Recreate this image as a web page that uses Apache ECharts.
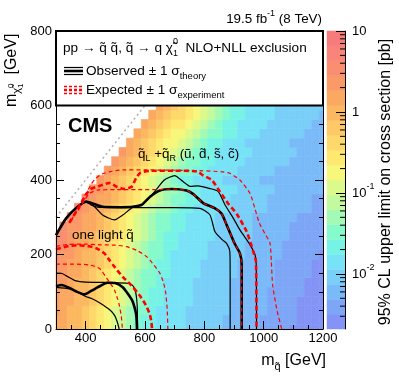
<!DOCTYPE html>
<html>
<head>
<meta charset="utf-8">
<script src="https://cdn.jsdelivr.net/npm/echarts@6.0.0/dist/echarts.min.js"></script>
<style>
html,body{margin:0;padding:0;background:#ffffff;}
#chart{width:399px;height:383px;}
</style>
</head>
<body>
<div id="chart"></div>
<script>
const FONT = '"Liberation Sans", Arial, Helvetica, sans-serif';

// ---------- data ----------
const squarkMasses = [300,325,350,375,400,425,450,475,500,525,550,575,600,625,650,675,700,725,750,775,800,825,850,875,900,925,950,975,1000,1025,1050,1075,1100,1125,1150,1175,1200];
const lspMasses = [0,25,50,75,100,125,150,175,200,225,250,275,300,325,350,375,400,425,450,475,500,525,550,575,600];

// colour band (0 = lowest limit ... 19 = highest) read for every cell; each row ends at m_squark = 1200
const limitBandRows = [
  [15,15,14,14,13,12,11,10,9,8,7,6,5,5,4,4,4,4,3,3,3,3,3,2,2,2,2,2,1,1,1,1,0,0,0,0,0],
  [15,15,14,14,13,12,11,10,9,8,7,6,5,5,4,4,4,4,3,3,3,3,3,2,2,2,2,2,1,1,1,1,1,0,0,0,0],
  [16,15,14,14,13,12,11,10,9,8,7,6,6,5,4,4,4,4,3,3,3,3,3,3,2,2,2,2,2,1,1,1,1,0,0,0,0],
  [16,15,15,14,14,13,12,11,10,9,8,7,6,5,5,4,4,4,4,3,3,3,3,3,2,2,2,2,2,1,1,1,1,0,0,0,0],
  [16,15,15,14,14,13,12,11,10,9,8,7,6,5,5,4,4,4,4,3,3,3,3,3,2,2,2,2,2,1,1,1,1,1,0,0,0],
  [16,16,15,14,14,13,12,11,10,9,8,7,6,6,5,4,4,4,4,3,3,3,3,3,2,2,2,2,2,2,1,1,1,1,0,0,0],
  [16,16,15,15,14,13,12,11,10,9,8,7,6,6,5,5,4,4,4,4,3,3,3,3,3,2,2,2,2,2,1,1,1,1,1,0,0],
  [17,16,15,15,14,14,13,12,11,10,9,8,7,6,5,5,4,4,4,4,3,3,3,3,3,2,2,2,2,2,1,1,1,1,1,0,0],
  [17,16,16,15,14,14,13,12,11,10,9,8,7,6,6,5,4,4,4,4,4,3,3,3,3,3,2,2,2,2,2,1,1,1,1,1,0],
  [17,17,16,15,15,14,13,12,11,10,9,8,7,6,6,5,5,4,4,4,4,3,3,3,3,3,2,2,2,2,2,1,1,1,1,1,1],
  [17,17,16,15,15,14,13,13,12,11,10,9,8,7,6,5,5,4,4,4,4,4,3,3,3,3,3,2,2,2,2,2,1,1,1,1,1],
  [17,16,16,15,15,14,13,12,11,10,9,8,7,6,6,5,5,4,4,4,4,3,3,3,3,3,2,2,2,2,2,1,1,1,1,1],
  [17,16,15,15,14,13,12,11,10,9,8,7,6,6,5,5,4,4,4,4,3,3,3,3,3,2,2,2,2,2,2,1,1,1,1],
  [17,16,15,15,14,13,12,11,10,9,8,7,7,6,5,5,4,4,4,4,4,3,3,3,3,3,2,2,2,2,2,2,1,1],
  [17,16,15,15,14,13,12,11,10,9,8,7,6,6,5,5,4,4,4,4,3,3,3,3,3,2,2,2,2,2,2,1,1],
  [16,16,15,14,13,12,11,10,9,8,7,7,6,5,5,4,4,4,4,4,3,3,3,3,3,2,2,2,2,2,2,2],
  [16,15,14,13,12,11,10,9,8,7,6,5,5,4,4,4,4,3,3,3,3,3,2,2,2,2,2,2,2,2,2],
  [16,15,14,13,12,11,10,9,8,7,6,6,5,5,4,4,4,4,3,3,3,3,3,2,2,2,2,2,2,2],
  [16,15,14,13,12,11,10,9,8,7,6,6,5,5,4,4,4,4,3,3,3,3,3,3,2,2,2,2,2],
  [16,15,14,13,12,11,10,9,8,7,6,5,5,4,4,4,4,4,3,3,3,3,3,3,2,2,2,2],
  [15,14,13,12,11,10,10,9,8,7,6,5,5,4,4,4,3,3,3,3,3,3,2,2,2,2,2],
  [15,14,13,12,11,10,10,9,8,7,6,6,5,5,4,4,4,3,3,3,3,3,3,2,2,2],
  [15,14,13,12,11,11,10,9,8,7,6,5,5,4,4,4,4,3,3,3,3,3,3,2,2],
  [15,14,13,12,12,11,10,9,8,7,6,5,5,4,4,4,4,3,3,3,3,3,3,2],
  [15,14,13,12,11,10,9,8,7,6,5,5,4,4,4,4,3,3,3,3,3,3,3]
];

// colour-bar bands (log10 of pb), band centre limits (pb) and colours, bottom to top
const bandLogEdges = [-2.68,-2.496,-2.312,-2.128,-1.944,-1.76,-1.576,-1.392,-1.208,-1.024,-0.84,-0.656,-0.472,-0.288,-0.104,0.08,0.264,0.448,0.632,0.816,1.0];
const bandCentreLimits = [0.0026,0.0039,0.0060,0.0092,0.014,0.021,0.033,0.050,0.077,0.12,0.18,0.27,0.42,0.64,0.97,1.5,2.3,3.5,5.3,8.1];
const bandColours = ['#8393f6','#7ea6f7','#7bbaf8','#79cff8','#78e2f7','#77f3e5','#86facb','#a2fab5','#c3fa9d','#dcf98c','#f7f77b','#fee870','#fed86a','#fdc865','#fcb860','#fba860','#fa9a66','#f98e70','#f8847a','#f77b7b'];
const colorbarMajorTicks = [-2,-1,0,1];
const colorbarMinorTicks = [0.003,0.004,0.005,0.006,0.007,0.008,0.009,0.02,0.03,0.04,0.05,0.06,0.07,0.08,0.09,0.2,0.3,0.4,0.5,0.6,0.7,0.8,0.9,2,3,4,5,6,7,8,9];

const xTickLabels = [400,600,800,1000,1200];
const diagonalLine = [[300,300],[600,600]];

// "one light squark" contours
const obsOneLight = [[300,115],[320,118],[345,110],[370,100],[395,93],[420,103],[450,116],[474,124],[502,123],[525,112],[541,96],[556,78],[564,60],[570,40],[572,22],[573,0]];
const obsOneLightUp = [[300,150],[320,149],[345,138],[367,129],[400,126],[468,125],[536,123],[552,120],[561,114],[568,100],[572,80],[574,55],[575,0]];
const obsOneLightDown = [[300,112],[345,108],[370,100],[398,88],[420,82],[448,70],[482,51],[498,36],[506,20],[513,0]];
const expOneLight = [[300,214],[340,222],[378,225],[410,222],[435,217],[463,203],[480,185],[497,167],[525,140],[553,118],[581,91],[603,64],[615,42],[621,22],[624,0]];
const expOneLightDown = [[300,174],[367,174],[412,172],[446,163],[468,140],[485,120],[497,105],[508,80],[513,65],[520,35],[524,0]];
const expOneLightUp = [[300,222],[340,227],[400,228],[448,226],[500,225],[538,221],[575,210],[606,194],[630,172],[650,150],[662,125],[670,96],[675,50],[677,0]];

// "qL + qR (u,d,s,c)" contours
const obsDegen = [[300,252],[334,297],[367,324],[401,342],[424,337],[457,328],[520,327],[558,328],[590,334],[617,355],[650,372],[690,376],[740,372],[763,362],[796,338],[836,324],[858,310],[875,280],[903,228],[920,203],[926,172],[926,0]];
const obsDegenUp = [[300,252],[334,297],[367,324],[401,342],[424,333],[457,306],[497,293],[525,306],[558,326],[590,334],[617,355],[634,370],[665,400],[700,412],[728,396],[752,383],[778,384],[819,377],[847,369],[870,333],[898,297],[920,266],[954,226],[971,199],[975,172],[976,0]];
const obsDegenDown = [[300,252],[334,297],[367,324],[401,342],[420,332],[440,327],[500,326],[600,326],[700,326],[785,324],[819,306],[836,261],[860,240],[875,230],[886,208],[887,150],[887,0]];
const expDegen = [[345,285],[370,318],[395,352],[415,375],[450,385],[480,392],[505,382],[530,376],[555,382],[570,405],[585,420],[620,425],[700,425],[775,423],[795,413],[825,400],[853,368],[880,337],[910,308],[943,261],[965,208],[974,181],[976,0]];
const expDegenDown = [[375,318],[395,345],[415,365],[440,373],[500,374],[600,374],[650,374],[690,376],[740,372],[763,362],[796,338],[836,324],[858,310],[875,280],[903,228],[920,203],[926,172],[926,0]];
const expDegenUp = [[352,292],[367,315],[385,342],[401,364],[420,390],[435,405],[455,416],[480,422],[525,427],[600,427],[785,425],[860,422],[886,418],[920,400],[954,364],[970,325],[985,285],[1005,255],[1021,232],[1026,180],[1030,120],[1045,50],[1061,0]];

// ---------- helpers ----------
function colourFor(v){
  const lv = Math.log10(v);
  for (let b = 0; b < bandColours.length; b++) if (lv < bandLogEdges[b+1]) return bandColours[b];
  return bandColours[bandColours.length-1];
}
const heatData = [];
limitBandRows.forEach((row, r) => {
  const start = squarkMasses.length - row.length;
  row.forEach((band, i) => heatData.push([squarkMasses[start+i], lspMasses[r], bandCentreLimits[band]]));
});

const mctx = document.createElement('canvas').getContext('2d');
function tw(t, s, w){ mctx.font = (w||'normal') + ' ' + s + 'px ' + FONT; return mctx.measureText(t).width; }
function textRun(x, y, parts, align){
  const els = []; let cx = 0;
  parts.forEach(p => {
    const s = p.s || 13, w = p.w || 'normal';
    if (p.sup !== undefined || p.sub !== undefined){
      let w1 = 0, w2 = 0;
      if (p.sup !== undefined){ w1 = tw(p.sup, s, w); els.push({t:p.sup, x:cx, dy:(p.supDy!==undefined?p.supDy:-6), s, w}); }
      if (p.sub !== undefined){ w2 = tw(p.sub, s, w); els.push({t:p.sub, x:cx, dy:(p.subDy!==undefined?p.subDy:5), s, w}); }
      cx += Math.max(w1, w2);
    } else {
      els.push({t:p.t, x:cx, dy:p.dy||0, s, w}); cx += tw(p.t, s, w);
    }
  });
  const shift = align === 'right' ? -cx : (align === 'center' ? -cx/2 : 0);
  return els.map(e => ({type:'text', x:x+shift+e.x, y:y+e.dy, z:110,
    style:{text:e.t, font:e.w+' '+e.s+'px '+FONT, fill:'#000', textAlign:'left', textVerticalAlign:'middle', align:'left', verticalAlign:'middle'}}));
}

function lineSeries(data, color, width, dashed){
  return {type:'line', xAxisIndex:0, yAxisIndex:0, data:data, showSymbol:false, symbol:'none', smooth:0.2,
    lineStyle:{color:color, width:width, type: dashed ? (width > 2 ? [5,3] : [4,3]) : 'solid'}, silent:true, clip:true, animation:false};
}

function renderCell(params, api){
  const x = api.value(0), y = api.value(1), v = api.value(2);
  const p0 = api.coord([x-12.5, y+12.5]);
  const p1 = api.coord([x+12.5, y-12.5]);
  const cs = params.coordSys;
  const r = echarts.graphic.clipRectByRect({x:p0[0], y:p0[1], width:p1[0]-p0[0], height:p1[1]-p0[1]}, {x:cs.x, y:cs.y, width:cs.width, height:cs.height});
  if (!r) return;
  const c = colourFor(v);
  return {type:'rect', shape:r, style:{fill:c, stroke:c, lineWidth:0.6}};
}
function renderBand(params, api){
  const p0 = api.coord([0, api.value(2)]);
  const p1 = api.coord([1, api.value(1)]);
  const c = bandColours[api.value(3)];
  return {type:'rect', shape:{x:p0[0], y:p0[1], width:p1[0]-p0[0], height:p1[1]-p0[1]}, style:{fill:c, stroke:c, lineWidth:0.5}};
}
function renderMinor(params, api){
  const p = api.coord([1, api.value(1)]);
  return {type:'line', shape:{x1:p[0], y1:p[1], x2:p[0]-5, y2:p[1]}, style:{stroke:'#000', lineWidth:1}};
}

const axisFont = {fontFamily:FONT, fontSize:13, color:'#000'};
const chart = echarts.init(document.getElementById('chart'), null, {renderer:'canvas'});
const option = {
  animation:false,
  backgroundColor:'#ffffff',
  grid:[{left:56, top:31, width:267, height:298}, {left:327, top:31, width:18, height:298}],
  xAxis:[
    {gridIndex:0, type:'value', min:300, max:1200, position:'bottom', z:10,
     axisLine:{show:true, onZero:false, lineStyle:{color:'#000', width:1}},
     axisTick:{show:true, inside:true, length:8, customValues:xTickLabels, lineStyle:{color:'#000'}},
     axisLabel:Object.assign({customValues:xTickLabels, margin:3, formatter: v => String(v)}, axisFont),
     splitLine:{show:false}},
    {gridIndex:0, type:'value', min:300, max:1200, interval:50, position:'bottom', z:10,
     axisLine:{show:false}, axisTick:{show:true, inside:true, length:4, lineStyle:{color:'#000'}},
     axisLabel:{show:false}, splitLine:{show:false}},
    {gridIndex:1, type:'value', min:0, max:1, show:false}
  ],
  yAxis:[
    {gridIndex:0, type:'value', min:0, max:800, interval:200, position:'left', z:10,
     axisLine:{show:true, onZero:false, lineStyle:{color:'#000', width:1}},
     axisTick:{show:true, inside:true, length:8, lineStyle:{color:'#000'}},
     minorTick:{show:true, splitNumber:4, length:4, lineStyle:{color:'#000'}},
     axisLabel:Object.assign({margin:4, formatter: v => String(v)}, axisFont), splitLine:{show:false}},
    {gridIndex:0, type:'value', min:0, max:800, interval:200, position:'right', z:10,
     axisLine:{show:true, onZero:false, lineStyle:{color:'#000', width:1}},
     axisTick:{show:true, inside:true, length:8, lineStyle:{color:'#000'}},
     minorTick:{show:true, splitNumber:4, length:4, lineStyle:{color:'#000'}},
     axisLabel:{show:false}, splitLine:{show:false}},
    {gridIndex:1, type:'value', min:bandLogEdges[0], max:bandLogEdges[bandLogEdges.length-1], position:'right', z:10,
     axisLine:{show:true, onZero:false, lineStyle:{color:'#000', width:1}},
     axisTick:{show:true, inside:true, length:9, customValues:colorbarMajorTicks, lineStyle:{color:'#000'}},
     axisLabel:{show:false}, splitLine:{show:false}}
  ],
  series:[
    {type:'custom', xAxisIndex:0, yAxisIndex:0, data:heatData, renderItem:renderCell, silent:true, animation:false},
    Object.assign(lineSeries(diagonalLine, '#aaaaaa', 1.5, false), {lineStyle:{color:'#b0b0b0', width:1.5, type:[2,3]}, smooth:false}),
    lineSeries(obsOneLightUp, '#000', 1.2, false),
    lineSeries(obsOneLightDown, '#000', 1.2, false),
    lineSeries(obsDegenUp, '#000', 1.2, false),
    lineSeries(obsDegenDown, '#000', 1.2, false),
    lineSeries(obsOneLight, '#000', 2.6, false),
    lineSeries(obsDegen, '#000', 2.6, false),
    lineSeries(expOneLightUp, '#ff0000', 1.2, true),
    lineSeries(expOneLightDown, '#ff0000', 1.2, true),
    lineSeries(expDegenUp, '#ff0000', 1.2, true),
    lineSeries(expDegenDown, '#ff0000', 1.2, true),
    lineSeries(expOneLight, '#ff0000', 2.6, true),
    lineSeries(expDegen, '#ff0000', 2.6, true),
    {type:'custom', xAxisIndex:2, yAxisIndex:2, renderItem:renderBand, silent:true, animation:false,
     data:bandColours.map((c, b) => [0, bandLogEdges[b], bandLogEdges[b+1], b])},
    {type:'custom', xAxisIndex:2, yAxisIndex:2, renderItem:renderMinor, silent:true, animation:false, z:5,
     data:colorbarMinorTicks.map(v => [1, Math.log10(v)])}
  ]
};
chart.setOption(option);

// ---------- annotations ----------
const tl = chart.convertToPixel({xAxisIndex:0, yAxisIndex:0}, [300, 800]);
const br = chart.convertToPixel({xAxisIndex:0, yAxisIndex:0}, [1200, 600]);
const g = [];
g.push({type:'rect', z:100, shape:{x:tl[0], y:tl[1], width:br[0]-tl[0], height:br[1]-tl[1]}, style:{fill:'#ffffff', stroke:'#000', lineWidth:2}});
// legend markers
[[67.5,1.2],[71,2.6],[74.5,1.2]].forEach(m => g.push({type:'line', z:105, shape:{x1:64, y1:m[0], x2:83, y2:m[0]}, style:{stroke:'#000', lineWidth:m[1]}}));
[[86.5,1.3],[90,2.6],[93.5,1.3]].forEach(m => g.push({type:'line', z:105, shape:{x1:64, y1:m[0], x2:83, y2:m[0]}, style:{stroke:'#ff0000', lineWidth:m[1], lineDash:[3,2]}}));
g.push(...textRun(63, 48, [{t:'pp \u2192 q\u0303 q\u0303, q\u0303 \u2192 q \u03c7\u0303', s:13.6}, {sup:'0', sub:'1', s:9, supDy:-6, subDy:6}, {t:'  NLO+NLL exclusion', s:13.6}]));
g.push(...textRun(86, 71, [{t:'Observed \u00b1 1 \u03c3', s:13.6}, {t:'theory', s:9.5, dy:5}]));
g.push(...textRun(86, 90, [{t:'Expected \u00b1 1 \u03c3', s:13.6}, {t:'experiment', s:9.5, dy:5}]));
// top label
g.push(...textRun(322, 19, [{t:'19.5 fb', s:13.4}, {sup:'-1', s:9, supDy:-5}, {t:' (8 TeV)', s:13.4}], 'right'));
// CMS and region labels
g.push(...textRun(68, 126, [{t:'CMS', s:20, w:'bold'}]));
g.push(...textRun(138, 154, [{t:'q\u0303', s:13.4}, {t:'L', s:9, dy:5}, {t:' +q\u0303', s:13.4}, {t:'R', s:9, dy:5}, {t:' (\u0169, d\u0303, s\u0303, c\u0303)', s:13.4}]));
g.push(...textRun(72, 235, [{t:'one light q\u0303', s:13.4}]));
// axis titles
g.push(...textRun(326, 361, [{t:'m', s:16}, {t:'q\u0303', s:11, dy:6}, {t:' [GeV]', s:16}], 'right'));
g.push({type:'group', x:12, y:107, rotation:Math.PI/2, z:110,
  children: textRun(0, 0, [{t:'m', s:16}, {t:'\u03c7\u0303', s:11, dy:5}, {sup:'0', sub:'1', s:8, supDy:-1, subDy:9}, {t:'  [GeV]', s:16}])});
g.push({type:'group', x:386, y:182, rotation:Math.PI/2, z:110,
  children: textRun(0, 0, [{t:'95% CL upper limit on cross section [pb]', s:16}], 'center')});
// colour bar labels
colorbarMajorTicks.forEach(v => {
  const py = chart.convertToPixel({yAxisIndex:2}, v);
  let parts;
  if (v === 1) parts = [{t:'10', s:13}];
  else if (v === 0) parts = [{t:'1', s:13}];
  else parts = [{t:'10', s:13}, {sup:String(v), s:9, supDy:-6}];
  g.push(...textRun(352, py, parts));
});
chart.setOption({graphic:{elements:g}});
</script>
</body>
</html>
